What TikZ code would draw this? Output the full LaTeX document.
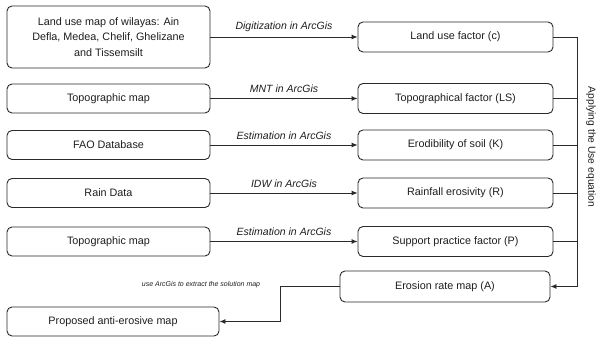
\documentclass[tikz,border=0pt]{standalone}
\usepackage{fontspec}
\setmainfont{Liberation Sans}
\usetikzlibrary{arrows.meta,calc}
\definecolor{ln}{HTML}{2A2A2A}
\definecolor{tx}{HTML}{1E1E1E}
\begin{document}
\begin{tikzpicture}[x=1pt,y=-1pt,
  box/.style={draw=ln,line width=0.9pt,rounded corners=5pt,inner sep=2pt,align=center,
    text=tx,font=\fontsize{10.8}{15.5}\selectfont},
  lbox/.style={box,minimum width=203pt,minimum height=29pt},
  rbox/.style={box,minimum width=195pt,minimum height=30pt},
  conn/.style={draw=ln,line width=0.9pt},
  arr/.style={conn,-{Latex[length=6pt,width=5pt]}},
  lab/.style={midway,above=5pt,inner sep=0pt,text=tx,font=\fontsize{10.5}{12}\selectfont\itshape}]
\useasboundingbox[fill=white] (0,0) rectangle (599,337);

% left column
\node[lbox,minimum height=62pt] (b1) at (108.5,37) {Land use map of wilayas: Ain\\Defla, Medea, Chelif, Ghelizane\\and Tissemsilt};
\node[lbox] (b2) at (108.5,98.5) {Topographic map};
\node[lbox] (b3) at (108.5,145) {FAO Database};
\node[lbox] (b4) at (108.5,193) {Rain Data};
\node[lbox] (b5) at (108.5,241.5) {Topographic map};
\node[box,minimum width=212pt,minimum height=29pt] (prop) at (113,321.5) {Proposed anti-erosive map};

% right column
\node[rbox] (lu) at (455.5,37) {Land use factor (c)};
\node[rbox] (ls) at (455.5,98.5) {Topographical factor (LS)};
\node[rbox] (k) at (455.5,145) {Erodibility of soil (K)};
\node[rbox] (r) at (455.5,193) {Rainfall erosivity (R)};
\node[rbox] (p) at (455.5,241.5) {Support practice factor (P)};
\node[box,minimum width=210pt,minimum height=31pt] (ea) at (445,286.5) {Erosion rate map (A)};

% arrows left -> right
\draw[arr] (b1) -- (lu) node[lab] {Digitization in ArcGis};
\draw[arr] (b2) -- (ls) node[lab] {MNT in ArcGis};
\draw[arr] (b3) -- (k) node[lab] {Estimation in ArcGis};
\draw[arr] (b4) -- (r) node[lab] {IDW in ArcGis};
\draw[arr] (b5) -- (p) node[lab] {Estimation in ArcGis};

% bus
\coordinate (bus) at (577,0);
\draw[arr] (lu.east) -| (ea.east -| bus) -- (ea.east);
\draw[conn] (ls.east) -- (ls.east -| bus);
\draw[conn] (k.east) -- (k.east -| bus);
\draw[conn] (r.east) -- (r.east -| bus);
\draw[conn] (p.east) -- (p.east -| bus);
\node[rotate=-90,text=tx,font=\fontsize{10.3}{12}\selectfont,inner sep=0pt] (apply) at (591,147) {Applying the Use equation};

% erosion -> proposed
\coordinate (turn) at (280,0);
\draw[arr] (ea.west) -- (ea.west -| turn) |- (prop.east);
\node[text=tx,font=\fontsize{7}{8}\selectfont\itshape,inner sep=0pt] (ext) at (201,285) {use ArcGis to extract the solution map};
\end{tikzpicture}
\end{document}
